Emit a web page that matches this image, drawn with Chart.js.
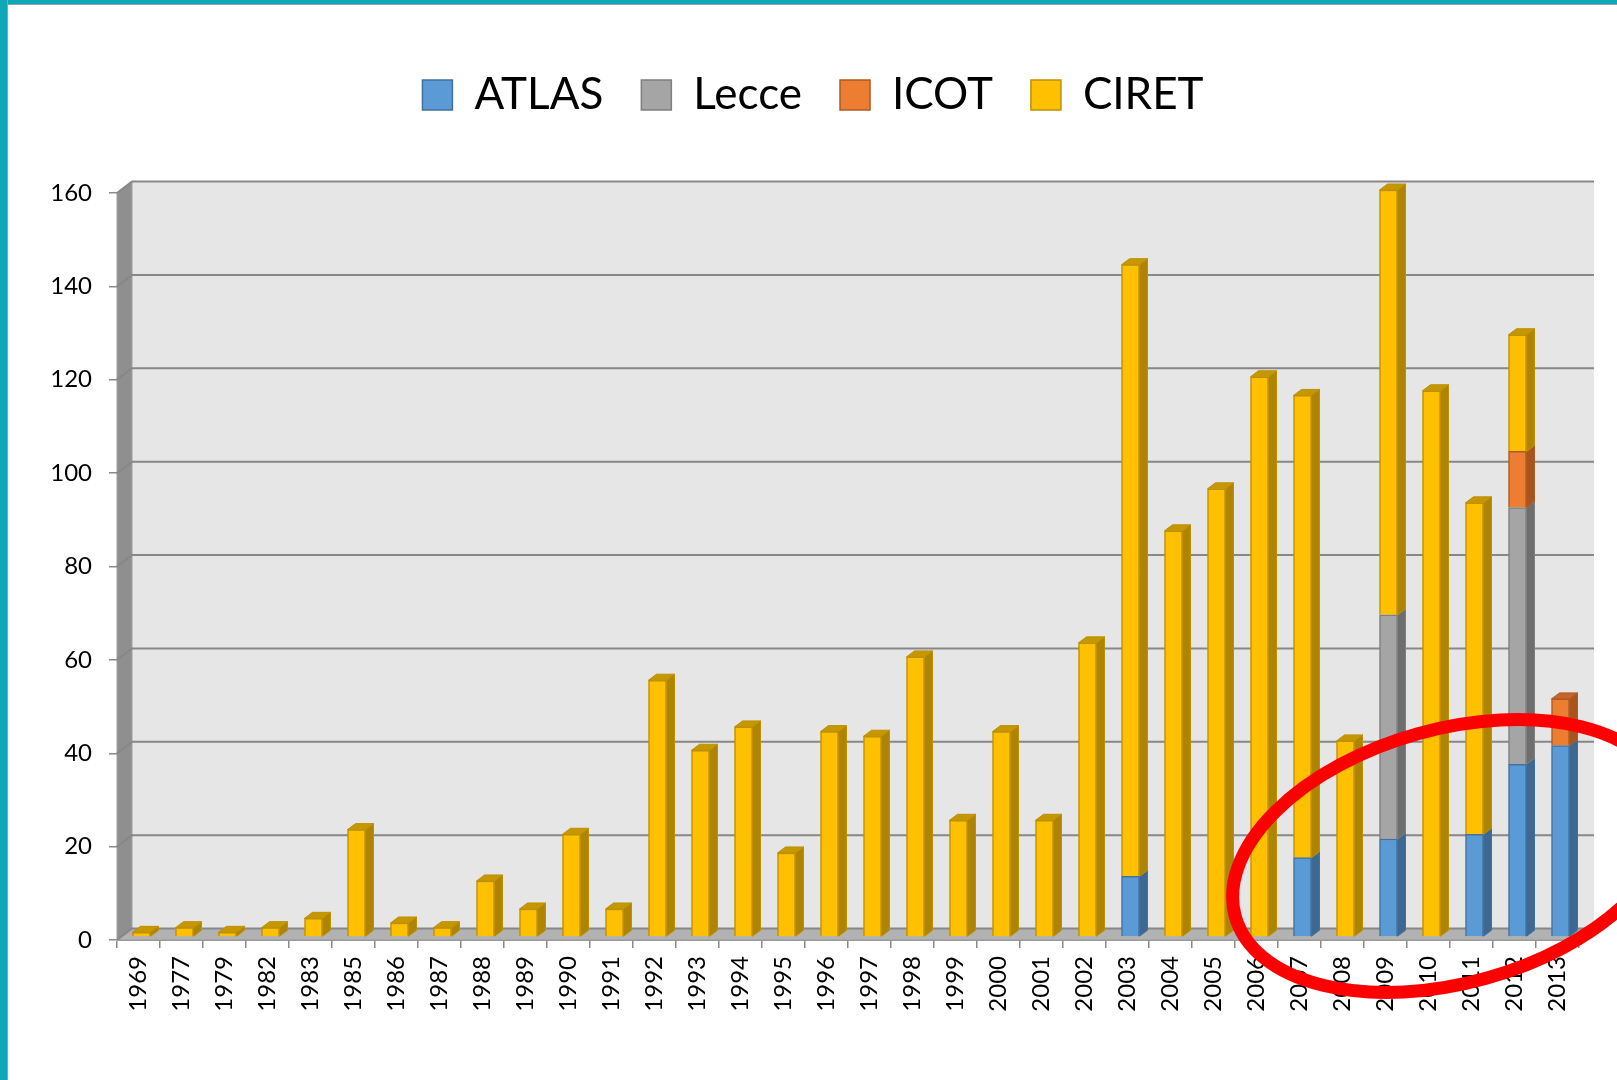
<!DOCTYPE html>
<html>
<head>
<meta charset="utf-8">
<title>ATLAS / Lecce / ICOT / CIRET</title>
<script src="https://cdn.jsdelivr.net/npm/chart.js@4.4.0/dist/chart.umd.min.js"></script>
<style>
  html, body { margin: 0; padding: 0; background: #fff; }
  #wrap { position: relative; width: 1617px; height: 1080px; overflow: hidden; }
  #chart { position: absolute; left: 0; top: 0; }
  .frame-top { position: absolute; left: 0; top: 0; width: 1617px; height: 4px; background: #10a8b6; border-bottom: 1px solid #8fa3a6; }
  .frame-left { position: absolute; left: 0; top: 0; width: 7px; height: 1080px; background: #10a8b6; border-right: 1px solid #8fa3a6; }
</style>
</head>
<body>
<div id="wrap">
  <canvas id="chart" width="1617" height="1080"></canvas>
  <div class="frame-top"></div>
  <div class="frame-left"></div>
</div>
<script>
// data
const years = ["1969", "1977", "1979", "1982", "1983", "1985", "1986", "1987", "1988", "1989",
  "1990", "1991", "1992", "1993", "1994", "1995", "1996", "1997", "1998", "1999",
  "2000", "2001", "2002", "2003", "2004", "2005", "2006", "2007", "2008", "2009",
  "2010", "2011", "2012", "2013"];

const atlas = [0, 0, 0, 0, 0, 0, 0, 0, 0, 0, 0, 0, 0, 0, 0, 0, 0, 0, 0, 0,
  0, 0, 0, 13, 0, 0, 0, 17, 0, 21, 0, 22, 37, 41];
const lecce = [0, 0, 0, 0, 0, 0, 0, 0, 0, 0, 0, 0, 0, 0, 0, 0, 0, 0, 0, 0,
  0, 0, 0, 0, 0, 0, 0, 0, 0, 48, 0, 0, 55, 0];
const icot = [0, 0, 0, 0, 0, 0, 0, 0, 0, 0, 0, 0, 0, 0, 0, 0, 0, 0, 0, 0,
  0, 0, 0, 0, 0, 0, 0, 0, 0, 0, 0, 0, 12, 10];
const ciret = [1, 2, 1, 2, 4, 23, 3, 2, 12, 6, 22, 6, 55, 40, 45, 18, 44, 43, 60, 25,
  44, 25, 63, 131, 87, 96, 120, 99, 42, 91, 117, 71, 25, 0];

const yMin = 0;
const yMax = 160;
const yStep = 20;

// 3D look
const DEPTH_X = 15, DEPTH_Y = -11.5;   // back wall offset
const BAR_X = 3, BAR_Y = -3;           // bars sit a little behind the front plane
const SIDE_X = 8, SIDE_Y = -6;         // thickness of each bar
const FONT = "Lato, 'Open Sans', sans-serif";

const series = [
  { label: "ATLAS", data: atlas, fill: "#5b9bd5", border: "#41729f", side: "#3c6892", cap: "#4a82b4" },
  { label: "Lecce", data: lecce, fill: "#a5a5a5", border: "#7f7f7f", side: "#6e6e6e", cap: "#8c8c8c" },
  { label: "ICOT", data: icot, fill: "#ed7d31", border: "#ae5a21", side: "#a8541e", cap: "#c4662a" },
  { label: "CIRET", data: ciret, fill: "#ffc000", border: "#bf9000", side: "#ae8400", cap: "#c69800" },
];

function poly(ctx, pts, fill, stroke) {
  ctx.beginPath();
  ctx.moveTo(pts[0][0], pts[0][1]);
  for (let i = 1; i < pts.length; i++) ctx.lineTo(pts[i][0], pts[i][1]);
  ctx.closePath();
  ctx.fillStyle = fill;
  ctx.fill();
  if (stroke) {
    ctx.strokeStyle = stroke;
    ctx.lineWidth = 1;
    ctx.stroke();
  }
}

const threeD = {
  id: "threeD",
  afterInit(chart) {
    // leave room between legend and plot like the original slide
    const lg = chart.legend;
    const fit = lg.fit.bind(lg);
    lg.fit = function () {
      fit();
      this.height = 158;
    };
  },
  beforeDraw(chart) {
    const { ctx, chartArea: a, scales: { y } } = chart;
    const w = a.right - a.left;
    ctx.save();
    // back wall
    ctx.fillStyle = "#e6e6e6";
    ctx.fillRect(a.left + DEPTH_X, a.top + DEPTH_Y, w, a.bottom - a.top);
    // left wall
    poly(ctx, [[a.left, a.top], [a.left + DEPTH_X, a.top + DEPTH_Y],
      [a.left + DEPTH_X, a.bottom + DEPTH_Y], [a.left, a.bottom]], "#8f8f8f", "#a0a0a0");
    // floor
    poly(ctx, [[a.left, a.bottom], [a.left + DEPTH_X, a.bottom + DEPTH_Y],
      [a.right + DEPTH_X, a.bottom + DEPTH_Y], [a.right, a.bottom]], "#b2b2b2", "#9a9a9a");
    // grid lines on the walls
    ctx.strokeStyle = "#878787";
    ctx.lineWidth = 2;
    y.ticks.forEach(t => {
      const py = y.getPixelForValue(t.value);
      ctx.beginPath();
      ctx.moveTo(a.left, py);
      ctx.lineTo(a.left + DEPTH_X, py + DEPTH_Y);
      ctx.lineTo(a.right + DEPTH_X, py + DEPTH_Y);
      ctx.stroke();
    });
    ctx.restore();
  },
  beforeDatasetsDraw(chart) {
    chart.ctx.save();
    chart.ctx.translate(BAR_X, BAR_Y);
  },
  afterDatasetsDraw(chart) {
    const ctx = chart.ctx;
    // topmost segment of each stack gets the lid
    const topIdx = years.map((_, i) => {
      let k = -1;
      series.forEach((s, j) => { if (s.data[i]) k = j; });
      return k;
    });
    series.forEach((s, j) => {
      const meta = chart.getDatasetMeta(j);
      meta.data.forEach((bar, i) => {
        if (!s.data[i]) return;
        const p = bar.getProps(["x", "y", "base", "width"], true);
        const l = p.x - p.width / 2, r = p.x + p.width / 2;
        const top = Math.min(p.y, p.base), bot = Math.max(p.y, p.base);
        poly(ctx, [[r, top], [r + SIDE_X, top + SIDE_Y], [r + SIDE_X, bot + SIDE_Y], [r, bot]], s.side, s.border);
        if (topIdx[i] === j) {
          poly(ctx, [[l, top], [l + SIDE_X, top + SIDE_Y], [r + SIDE_X, top + SIDE_Y], [r, top]], s.cap, s.border);
        }
      });
    });
    ctx.restore();
  },
  afterDraw(chart) {
    // red hand-drawn ring round the last years
    const ctx = chart.ctx;
    ctx.save();
    ctx.strokeStyle = "#ff0000";
    ctx.lineWidth = 13;
    ctx.beginPath();
    ctx.ellipse(1452, 856, 225, 127, -15.6 * Math.PI / 180, 0, Math.PI * 2);
    ctx.stroke();
    ctx.restore();
  },
};

new Chart(document.getElementById("chart"), {
  type: "bar",
  data: {
    labels: years,
    datasets: series.map(s => ({
      label: s.label,
      data: s.data.map(v => v || null),
      backgroundColor: s.fill,
      borderColor: s.border,
      borderWidth: 1.5,
      barThickness: 18,
    })),
  },
  options: {
    responsive: false,
    animation: false,
    layout: { padding: { top: 35, right: 38, left: 47, bottom: 0 } },
    plugins: {
      legend: {
        position: "top",
        labels: {
          boxWidth: 30,
          boxHeight: 30,
          padding: 38,
          color: "#000",
          font: { family: FONT, size: 44 },
        },
      },
      tooltip: { enabled: false },
    },
    scales: {
      x: {
        stacked: true,
        grid: { drawOnChartArea: false, tickLength: 8, color: "#8a8a8a", lineWidth: 1.5, offset: true },
        border: { color: "#999" },
        ticks: {
          minRotation: 90,
          maxRotation: 90,
          autoSkip: false,
          padding: 8,
          color: "#000",
          font: { family: FONT, size: 24 },
        },
        afterFit: s => { s.height = 140; },
      },
      y: {
        stacked: true,
        min: yMin,
        max: yMax,
        ticks: {
          stepSize: yStep,
          padding: 17,
          color: "#000",
          font: { family: FONT, size: 24 },
        },
        grid: { drawOnChartArea: false, tickLength: 8, color: "#8a8a8a", lineWidth: 1.5 },
        border: { display: false },
        afterFit: s => { s.width = 70; },
      },
    },
  },
  plugins: [threeD],
});
</script>
</body>
</html>
